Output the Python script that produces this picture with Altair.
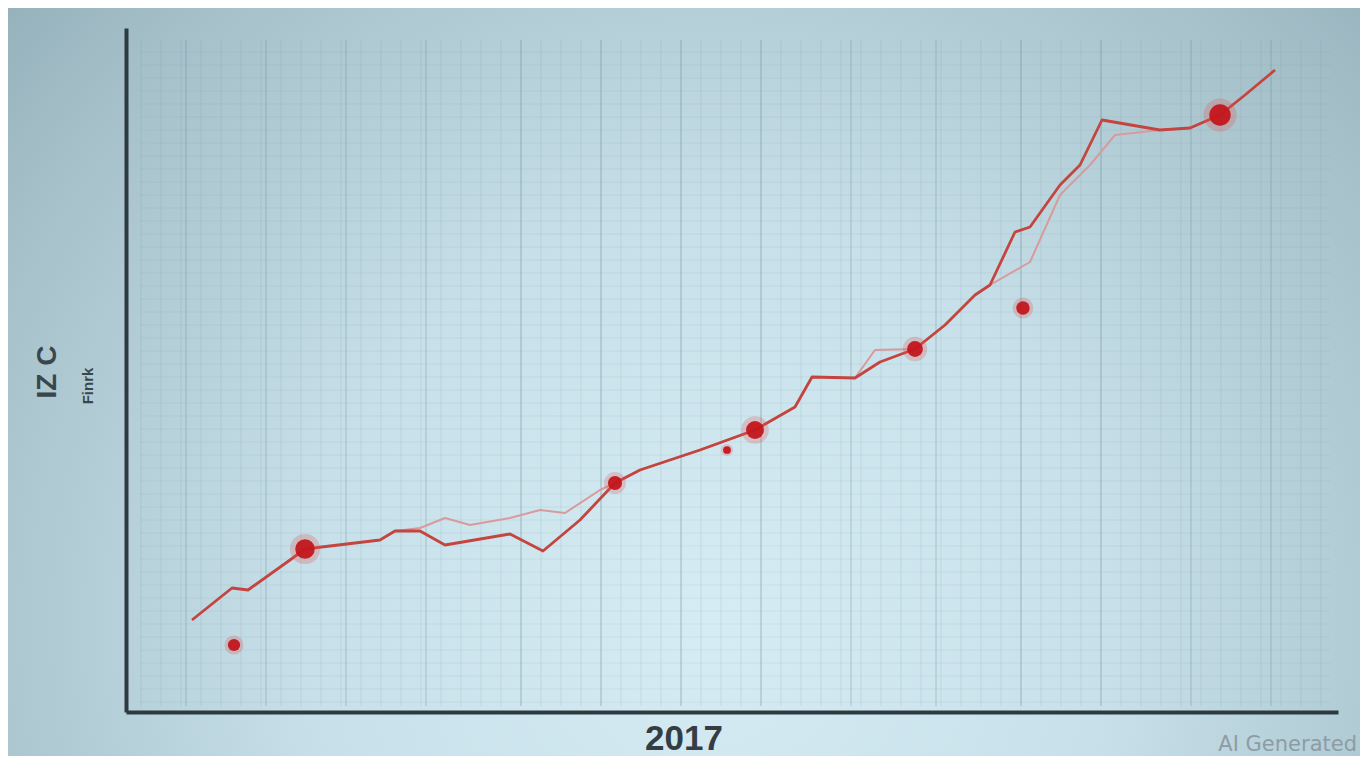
import altair as alt
import pandas as pd

# ---- data (abstract units) ----
main_x = [6.6, 10.6, 12.2, 16.4, 17.9, 20.4, 25.4, 26.9, 29.4, 31.9, 38.4, 41.7, 45.4, 48.9, 51.4,
          57.4, 62.9, 66.9, 68.6, 72.9, 75.4, 78.9, 81.9, 84.9, 86.4, 88.9, 90.4, 93.4, 95.4, 97.6,
          103.4, 106.4, 109.4, 111.9, 114.9]
main_y = [9.2, 12.4, 12.2, 15.2, 16.3, 16.6, 17.2, 18.1, 18.1, 16.7, 17.8, 16.1, 19.2, 22.9, 24.2,
          26.2, 28.2, 30.5, 33.5, 33.4, 35.0, 36.3, 38.7, 41.7, 42.7, 48.0, 48.5, 52.7, 54.7, 59.2,
          58.2, 58.4, 59.7, 61.7, 64.2]

alt_x = [26.9, 29.4, 31.9, 34.4, 38.4, 41.4, 43.9, 47.4, 48.9, 51.4, 57.4, 62.9, 66.9, 68.6, 72.9,
         74.9, 78.9, 81.9, 84.9, 86.4, 90.4, 93.4, 96.4, 98.9, 103.4, 106.4, 109.4, 111.9, 114.9]
alt_y = [18.1, 18.4, 19.4, 18.7, 19.4, 20.2, 19.9, 22.2, 22.9, 24.2, 26.2, 28.2, 30.5, 33.5, 33.4,
         36.2, 36.3, 38.7, 41.7, 42.7, 45.0, 51.7, 54.7, 57.7, 58.2, 58.4, 59.7, 61.7, 64.2]

dot_x = [10.8, 17.9, 48.9, 60.1, 62.9, 78.9, 89.7, 109.4]
dot_y = [6.7, 16.3, 22.9, 26.2, 28.2, 36.3, 40.4, 59.7]
dot_size = [150, 380, 200, 60, 320, 250, 180, 460]

major_grid = [6, 14, 22, 30, 39.5, 47.5, 55.5, 63.5, 72.5, 81, 89.5, 97.5, 106.5, 114.5]
minor_grid = [v / 2 for v in range(3, 240, 4)]
hgrid = [v / 10 for v in range(10, 670, 13)]

x_title = "2017"
y_title = "IZ C"
y_sub = "Finrk"
watermark = "AI Generated"

# ---- frames ----
lines = pd.DataFrame({
    "x": alt_x + main_x,
    "y": alt_y + main_y,
    "series": ["light"] * len(alt_x) + ["main"] * len(main_x),
    "order": list(range(len(alt_x))) + list(range(len(main_x))),
})
dots = pd.DataFrame({"x": dot_x, "y": dot_y, "size": dot_size})
dots["halo"] = dots["size"] * 2.4

xs = alt.Scale(domain=[0, 121.2], nice=False, zero=False)
ys = alt.Scale(domain=[0, 68.4], nice=False, zero=False)

W, H = 1212, 684

bg = alt.Chart(alt.Data(values=[{"a": 1}])).mark_rect(
    fill=alt.RadialGradient(
        gradient="radial",
        x1=0.52, y1=0.68, r1=0.0,
        x2=0.52, y2=0.68, r2=0.85,
        stops=[
            alt.GradientStop(offset=0, color="#d6ecf4"),
            alt.GradientStop(offset=0.35, color="#c7e0e9"),
            alt.GradientStop(offset=0.7, color="#a4bfc8"),
            alt.GradientStop(offset=1, color="#7f9ca6"),
        ],
    )
).encode(x=alt.value(-118), x2=alt.value(W + 22), y=alt.value(-20), y2=alt.value(H + 44))

hg = alt.Chart(pd.DataFrame({"y": hgrid})).mark_rule(
    color="#6a8c98", strokeWidth=1, opacity=0.1
).encode(y=alt.Y("y:Q", scale=ys), x=alt.value(14), x2=alt.value(W - 8))

mg = alt.Chart(pd.DataFrame({"x": minor_grid})).mark_rule(
    color="#6a8c98", strokeWidth=1, opacity=0.15
).encode(x=alt.X("x:Q", scale=xs), y=alt.value(12), y2=alt.value(H - 6))

Mg = alt.Chart(pd.DataFrame({"x": major_grid})).mark_rule(
    color="#62848f", strokeWidth=1.6, opacity=0.24
).encode(x=alt.X("x:Q", scale=xs), y=alt.value(12), y2=alt.value(H - 6))

line = alt.Chart(lines).mark_line(strokeJoin="round").encode(
    x=alt.X("x:Q", scale=xs, axis=alt.Axis(labels=False, ticks=False, grid=False, title=None,
                                           domainColor="#2e3a41", domainWidth=4, zindex=1)),
    y=alt.Y("y:Q", scale=ys, axis=alt.Axis(labels=False, ticks=False, grid=False, title=None,
                                           domainColor="#2e3a41", domainWidth=4, zindex=1)),
    detail="series:N",
    order="order:Q",
    color=alt.Color("series:N", scale=alt.Scale(domain=["light", "main"], range=["#d99a9c", "#c4443f"]),
                    legend=None),
    strokeWidth=alt.StrokeWidth("series:N", scale=alt.Scale(domain=["light", "main"], range=[2, 2.8]),
                                legend=None),
)

halo = alt.Chart(dots).mark_circle(color="#e24a4a", opacity=0.25).encode(
    x=alt.X("x:Q", scale=xs), y=alt.Y("y:Q", scale=ys),
    size=alt.Size("halo:Q", scale=None, legend=None),
)
dot = alt.Chart(dots).mark_circle(color="#c2161c", opacity=0.95).encode(
    x=alt.X("x:Q", scale=xs), y=alt.Y("y:Q", scale=ys),
    size=alt.Size("size:Q", scale=None, legend=None),
)

one = alt.Data(values=[{"a": 1}])
t_x = alt.Chart(one).mark_text(text=x_title, font="Liberation Sans", fontWeight="bold", fontSize=35,
                               color="#343d43", align="center", baseline="alphabetic").encode(
    x=alt.value(558), y=alt.value(722))
t_y = alt.Chart(one).mark_text(text=y_title, font="Liberation Sans", fontWeight="bold", fontSize=28,
                               color="#3a464d", angle=270, align="center", baseline="middle").encode(
    x=alt.value(-78), y=alt.value(344))
t_s = alt.Chart(one).mark_text(text=y_sub, font="Liberation Sans", fontWeight="bold", fontSize=15,
                               color="#3a464d", angle=270, align="center", baseline="middle").encode(
    x=alt.value(-38), y=alt.value(358))
t_w = alt.Chart(one).mark_text(text=watermark, font="DejaVu Sans", fontSize=21,
                               color="#8d9ca5", align="right", baseline="alphabetic").encode(
    x=alt.value(1231), y=alt.value(723))

chart = alt.layer(bg, hg, mg, Mg, line, halo, dot, t_x, t_y, t_s, t_w).properties(
    width=W, height=H,
    autosize=alt.AutoSizeParams(type="none"),
    padding={"left": 118, "top": 20, "right": 22, "bottom": 44},
).configure_view(stroke=None, fill=None).configure(background="#9fbcc6")

chart.save("out.html", embed_options={"renderer": "svg", "actions": False})
